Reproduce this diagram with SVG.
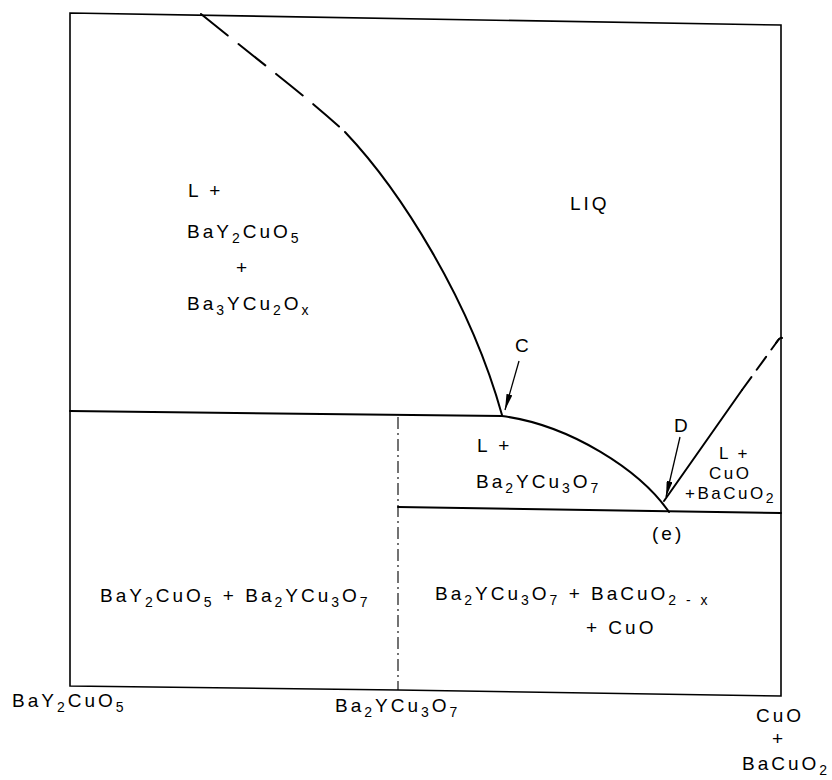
<svg xmlns="http://www.w3.org/2000/svg" width="832" height="780" viewBox="0 0 832 780">
<style>
.t{font-family:"Liberation Sans","DejaVu Sans",sans-serif;font-size:19px;letter-spacing:3px;fill:#000}
.m{font-size:17px;letter-spacing:2.5px}
.s{font-size:14px}
.ln{fill:none;stroke:#000;stroke-width:2;stroke-linecap:round;stroke-linejoin:round}
.fr{fill:none;stroke:#000;stroke-width:1.6}
.dash{stroke-dasharray:34 14}
.dd{fill:none;stroke:#000;stroke-width:1.1;stroke-dasharray:12 4 2 4}
.ar{fill:none;stroke:#000;stroke-width:1.3}
</style>
<defs>
<marker id="ah" viewBox="0 0 16 6" refX="16" refY="3" markerWidth="16" markerHeight="6" markerUnits="userSpaceOnUse" orient="auto">
<path d="M0,0 L16,3 L0,6 Z" fill="#000"/>
</marker>
</defs>
<rect width="832" height="780" fill="#fff"/>
<g id="frame">
<path class="fr" d="M70,13 L781,25 L781,696 L398,690 L70,686 Z"/>
</g>
<g id="connectors">
<path class="ln dash" d="M201,14 C255,58 305,95 345,132"/>
<path class="ln" d="M345,132 C400,190 470,300 502,415"/>
<path class="ln" d="M70,411 L502,416"/>
<path class="ln" d="M502,416 C570,425 640,470 669,512"/>
<path class="ln" d="M664,501 L742,390"/>
<path class="ln" d="M742,390 L779,339" stroke-dasharray="16 9"/>
<path class="ln" d="M776,343 Q780,337 782,338"/>
<path class="ln" d="M398,507 L781,513"/>
<path class="dd" d="M398,417 L398,690"/>
<path class="ar" d="M519,361 L505,410" marker-end="url(#ah)"/>
<path class="ar" d="M680,437 L666,497" marker-end="url(#ah)"/>
</g>
<g id="region-l-bay2cuo5">
<text class="t" x="188" y="197">L +</text>
<text class="t" x="187" y="238">BaY<tspan class="s" dy="5">2</tspan><tspan dy="-5">CuO</tspan><tspan class="s" dy="5">5</tspan></text>
<text class="t" x="236" y="274">+</text>
<text class="t" x="187" y="310">Ba<tspan class="s" dy="5">3</tspan><tspan dy="-5">YCu</tspan><tspan class="s" dy="5">2</tspan><tspan dy="-5">O</tspan><tspan class="s" dy="5">x</tspan></text>
</g>
<g id="region-liq">
<text class="t" x="570" y="210">LIQ</text>
</g>
<g id="point-c">
<text class="t" x="515" y="352">C</text>
</g>
<g id="point-d">
<text class="t" x="674" y="432">D</text>
</g>
<g id="region-l-ba2ycu3o7">
<text class="t" x="477" y="452">L +</text>
<text class="t" x="476" y="488">Ba<tspan class="s" dy="5">2</tspan><tspan dy="-5">YCu</tspan><tspan class="s" dy="5">3</tspan><tspan dy="-5">O</tspan><tspan class="s" dy="5">7</tspan></text>
</g>
<g id="region-l-cuo">
<text class="t m" x="719" y="459">L +</text>
<text class="t m" x="709" y="479">CuO</text>
<text class="t m" x="685" y="499">+BaCuO<tspan class="s" dy="4">2</tspan></text>
</g>
<g id="point-e">
<text class="t" x="652" y="540">(e)</text>
</g>
<g id="region-left-solid">
<text class="t" x="100" y="602">BaY<tspan class="s" dy="5">2</tspan><tspan dy="-5">CuO</tspan><tspan class="s" dy="5">5</tspan><tspan dy="-5"> + Ba</tspan><tspan class="s" dy="5">2</tspan><tspan dy="-5">YCu</tspan><tspan class="s" dy="5">3</tspan><tspan dy="-5">O</tspan><tspan class="s" dy="5">7</tspan></text>
</g>
<g id="region-right-solid">
<text class="t" x="435" y="600">Ba<tspan class="s" dy="5">2</tspan><tspan dy="-5">YCu</tspan><tspan class="s" dy="5">3</tspan><tspan dy="-5">O</tspan><tspan class="s" dy="5">7</tspan><tspan dy="-5"> + BaCuO</tspan><tspan class="s" dy="5">2 - x</tspan></text>
<text class="t" x="586" y="634">+ CuO</text>
</g>
<g id="axis-labels">
<text class="t" x="12" y="707">BaY<tspan class="s" dy="5">2</tspan><tspan dy="-5">CuO</tspan><tspan class="s" dy="5">5</tspan></text>
<text class="t" x="335" y="712">Ba<tspan class="s" dy="5">2</tspan><tspan dy="-5">YCu</tspan><tspan class="s" dy="5">3</tspan><tspan dy="-5">O</tspan><tspan class="s" dy="5">7</tspan></text>
<text class="t" x="756" y="722">CuO</text>
<text class="t" x="772" y="745">+</text>
<text class="t" x="742" y="770">BaCuO<tspan class="s" dy="5">2</tspan></text>
</g>
</svg>
